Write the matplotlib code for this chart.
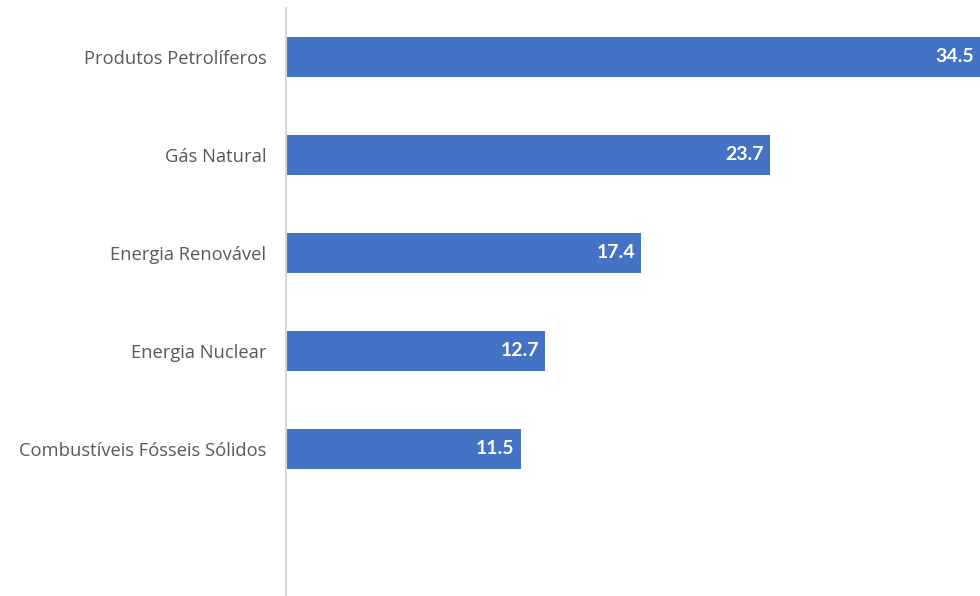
import matplotlib.pyplot as plt

categories = ["Produtos Petrolíferos", "Gás Natural", "Energia Renovável",
              "Energia Nuclear", "Combustíveis Fósseis Sólidos"]
values = [34.5, 23.7, 17.4, 12.7, 11.5]

bar_color = "#4472C4"
text_color = "#595959"

fig = plt.figure(figsize=(9.8, 5.96), dpi=100)
ax = fig.add_axes([286 / 980, 0, 1 - 286 / 980, 588 / 596])

pos = list(range(len(categories)))
ax.barh(pos, values, height=0.4, color=bar_color)

ax.set_xlim(0, 34.0)
ax.set_ylim(5.5, -0.5)

for p, v in zip(pos, values):
    x = min(v, 34.0)
    ax.text(x - 0.3, p, f"{v:.1f}", ha="right", va="center", color="white",
            fontsize=14, fontweight="bold", family=["Lato", "DejaVu Sans"])

ax.set_yticks(pos)
ax.set_yticklabels(categories, fontsize=13.2, color=text_color,
                   family=["Open Sans", "DejaVu Sans"], stretch="semi-condensed")
ax.tick_params(axis="y", length=0, pad=14)
ax.set_xticks([])

for s in ["top", "right", "bottom"]:
    ax.spines[s].set_visible(False)
ax.spines["left"].set_color("#D9D9D9")
ax.spines["left"].set_linewidth(1.5)

fig.savefig("out.png", dpi=100)
